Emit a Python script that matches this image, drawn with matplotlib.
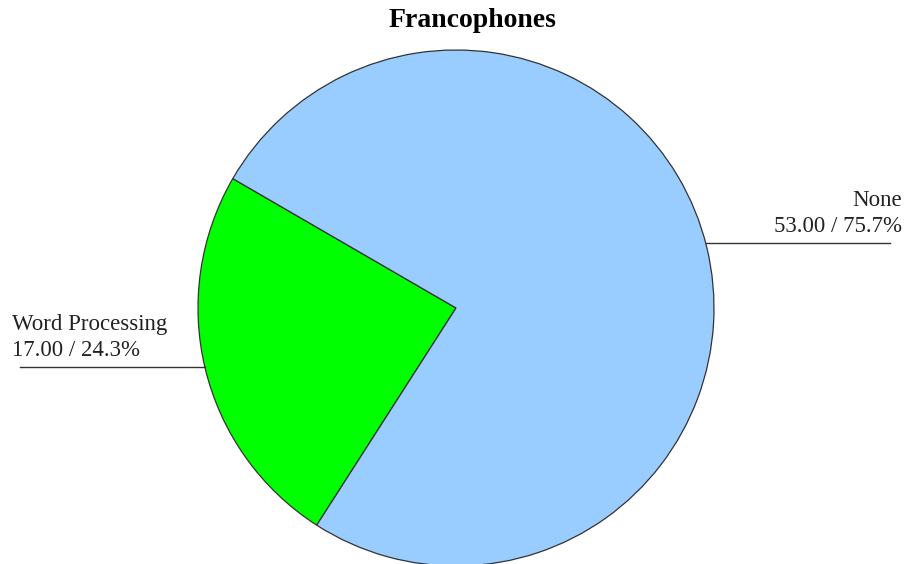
import numpy as np
import matplotlib.pyplot as plt

# data
labels = ["Word Processing", "None"]
values = [17.00, 53.00]
percents = [24.3, 75.7]
colors = ["#00FF00", "#99CCFF"]
title = "Francophones"

W, H = 907, 564
fig = plt.figure(figsize=(W / 100, H / 100), dpi=100)
ax = fig.add_axes([0, 0, 1, 1])
ax.set_xlim(0, W)
ax.set_ylim(0, H)
ax.set_aspect("equal")
ax.axis("off")

cx, cy, r = 456, H - 308, 258
ax.pie(values, colors=colors, startangle=149.9, counterclock=True,
       center=(cx, cy), radius=r,
       wedgeprops=dict(edgecolor="#333333", linewidth=0.9))
ax.set_xlim(0, W)
ax.set_ylim(0, H)


def py(y):
    return H - y


font = "Liberation Serif"
ax.text(472, py(27), title, ha="center", va="baseline", fontsize=20,
        fontweight="bold", family=font, color="black")

# label layout: (line y in px, text anchor x, alignment, line far end x)
layout = {
    "Word Processing": dict(line_y=367, tx=12, ha="left", far=20),
    "None": dict(line_y=243, tx=902, ha="right", far=890),
}

for lab, val, pct in zip(labels, values, percents):
    lay = layout[lab]
    dy = py(lay["line_y"]) - cy
    dx = np.sqrt(r ** 2 - dy ** 2)
    edge_x = cx + dx if lay["ha"] == "right" else cx - dx
    ax.plot([edge_x, lay["far"]], [py(lay["line_y"])] * 2,
            color="#333333", linewidth=1.0)
    ax.text(lay["tx"], py(lay["line_y"] - 37), lab, ha=lay["ha"],
            va="baseline", fontsize=16.5, family=font, color="#222222")
    ax.text(lay["tx"], py(lay["line_y"] - 11), f"{val:.2f} / {pct:.1f}%",
            ha=lay["ha"], va="baseline", fontsize=16.5, family=font,
            color="#222222")

fig.savefig("out.png", dpi=100)
